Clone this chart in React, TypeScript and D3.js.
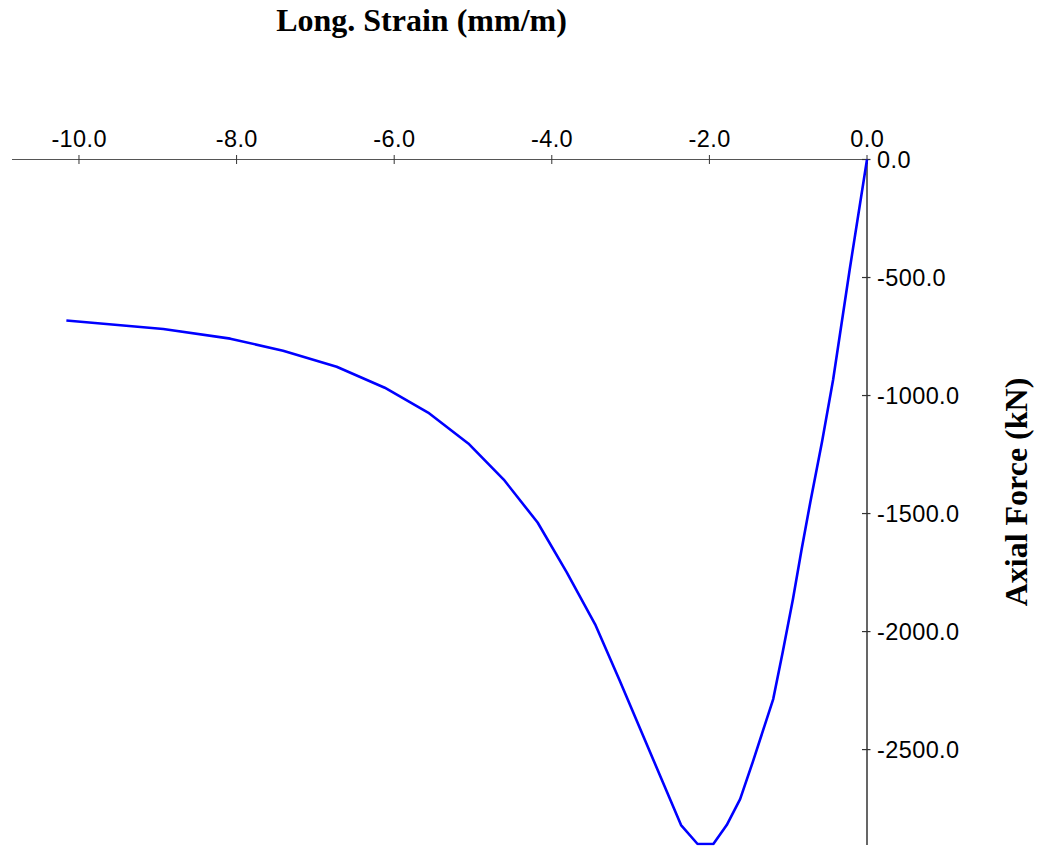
import React from "react";
import * as d3 from "d3";

const strain: number[] = [
  -10.16, -8.93, -8.08, -7.41, -6.73, -6.12, -5.57, -5.06, -4.61, -4.18, -3.81, -3.45, -3.14,
  -2.36, -2.15, -1.95, -1.78, -1.61, -1.45, -1.19, -1.07, -0.94, -0.83, -0.72, -0.57, -0.43, -0.22, 0.0,
];
const force: number[] = [
  -682, -718, -759, -810, -878, -967, -1072, -1203, -1356, -1538, -1749, -1969, -2206,
  -2820, -2900, -2900, -2820, -2710, -2553, -2286, -2088, -1863, -1652, -1453, -1195, -933, -467, 0,
];
const xTicks: number[] = [-10, -8, -6, -4, -2, 0];
const yTicks: number[] = [0, -500, -1000, -1500, -2000, -2500];
const xTitle = "Long. Strain (mm/m)";
const yTitle = "Axial Force (kN)";

const W = 1039;
const H = 850;

export default function App() {
  const x = d3.scaleLinear().domain([-10.85, 0]).range([12, 867]);
  const y = d3.scaleLinear().domain([-2900, 0]).range([844, 159.5]);
  const pts: [number, number][] = strain.map((s, i) => [s, force[i]]);
  const line = d3
    .line<[number, number]>()
    .x((d) => x(d[0]))
    .y((d) => y(d[1]));
  const tickFont = "'Liberation Sans', Arial, sans-serif";
  const titleFont = "'Liberation Serif', 'Times New Roman', serif";
  const x0 = x(0);
  const y0 = y(0);
  const yBottom = y(-2900);
  return (
    <svg
      width={W}
      height={H}
      style={{ position: "absolute", left: 0, top: 0, background: "#fff" }}
    >
      <defs>
        <clipPath id="plotclip">
          <rect x={x.range()[0]} y={y0 - 3} width={x0 - x.range()[0] + 3} height={yBottom - y0 + 4.5} />
        </clipPath>
      </defs>
      <text
        x={421.5}
        y={31}
        textAnchor="middle"
        fontFamily={titleFont}
        fontWeight="bold"
        fontSize={32}
        fill="#000"
      >
        {xTitle}
      </text>
      <text
        transform={`translate(1027,492) rotate(-90)`}
        textAnchor="middle"
        fontFamily={titleFont}
        fontWeight="bold"
        fontSize={32}
        fill="#000"
      >
        {yTitle}
      </text>
      {/* x axis */}
      <line x1={x.range()[0]} x2={x0} y1={y0} y2={y0} stroke="#555" strokeWidth={1.2} />
      {xTicks.map((t) => (
        <g key={"xt" + t}>
          <line x1={x(t)} x2={x(t)} y1={y0 - 4.5} y2={y0 + 4.5} stroke="#333" strokeWidth={1} />
          <text
            x={x(t) + 0.2}
            y={146.5}
            textAnchor="middle"
            fontFamily={tickFont}
            fontSize={23.5}
            letterSpacing={0.4}
            fill="#000"
          >
            {t.toFixed(1)}
          </text>
        </g>
      ))}
      {/* y axis */}
      <line x1={x0} x2={x0} y1={y0} y2={845} stroke="#000" strokeWidth={1.2} />
      {yTicks.map((t) => (
        <g key={"yt" + t}>
          <line x1={x0 - 5} x2={x0 + 3.5} y1={y(t)} y2={y(t)} stroke="#333" strokeWidth={1.2} />
          <text
            x={877}
            y={y(t) + 8.5}
            textAnchor="start"
            fontFamily={tickFont}
            fontSize={23.5}
            letterSpacing={0.4}
            fill="#000"
          >
            {t.toFixed(1)}
          </text>
        </g>
      ))}
      <path
        d={line(pts) || ""}
        fill="none"
        stroke="#0000ff"
        strokeWidth={2.6}
        strokeLinejoin="round"
        clipPath="url(#plotclip)"
      />
    </svg>
  );
}
